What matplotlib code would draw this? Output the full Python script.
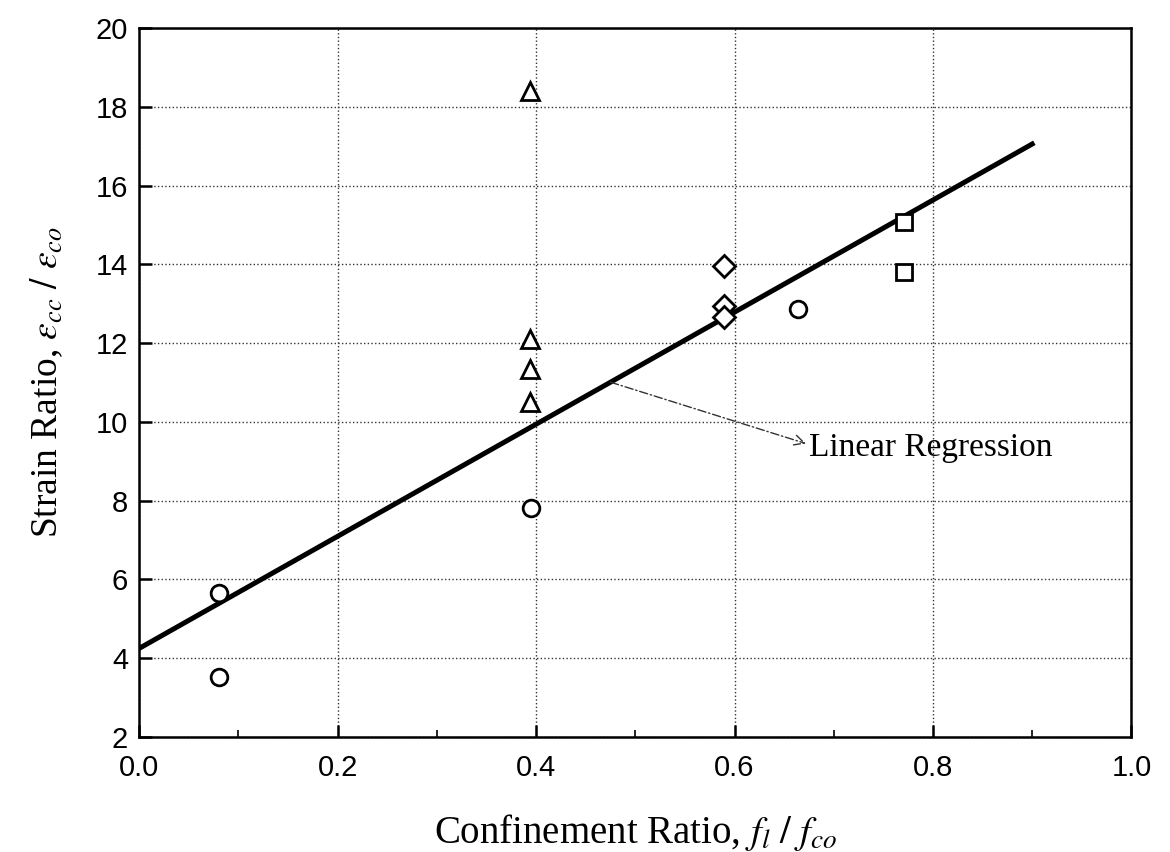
import matplotlib
matplotlib.use('Agg')
import matplotlib.pyplot as plt
import numpy as np
from matplotlib.ticker import MultipleLocator

plt.rcParams['mathtext.fontset'] = 'stix'

# data
circle_x = [0.08, 0.08, 0.395, 0.664]
circle_y = [5.65, 3.52, 7.82, 12.86]
tri_x = [0.394, 0.394, 0.394, 0.394]
tri_y = [18.4, 12.1, 11.35, 10.5]
dia_x = [0.589, 0.589, 0.589]
dia_y = [13.95, 12.94, 12.66]
sq_x = [0.771, 0.771]
sq_y = [15.08, 13.8]

# linear regression line
fit_intercept = 4.25
fit_slope = 14.23
fit_x = [0.0, 0.9]

x_ticks = [0.0, 0.2, 0.4, 0.6, 0.8, 1.0]
y_ticks = [2, 4, 6, 8, 10, 12, 14, 16, 18, 20]

fig = plt.figure(figsize=(11.7, 8.52), dpi=100)
ax = fig.add_axes([0.119, 0.135, 0.848, 0.832])

mk = dict(linestyle='none', markerfacecolor='white', markeredgecolor='black',
          markeredgewidth=2.0, zorder=4)
ax.plot(circle_x, circle_y, marker='o', markersize=12, **mk)
ax.plot(tri_x, tri_y, marker='^', markersize=13, **mk)
ax.plot(dia_x, dia_y, marker='D', markersize=11, **mk)
ax.plot(sq_x, sq_y, marker='s', markersize=12, **mk)

fx = np.array(fit_x)
ax.plot(fx, fit_intercept + fit_slope * fx, color='black', lw=3.6, zorder=3)

# annotation: thin dash-dot arrow from the line to the label
x0 = 0.475
ax.annotate('', xy=(0.672, 9.45), xytext=(x0, fit_intercept + fit_slope * x0),
            arrowprops=dict(arrowstyle='->', color='#333333', lw=1.0,
                            linestyle=(0, (6, 2, 1, 2)), shrinkA=0, shrinkB=0,
                            mutation_scale=18))
ax.text(0.675, 9.35, 'Linear Regression', ha='left', va='center',
        fontsize=24, family='Liberation Serif')

ax.set_xlim(0, 1.0)
ax.set_ylim(2, 20)
ax.set_xticks(x_ticks)
ax.set_yticks(y_ticks)
ax.set_xticklabels([f'{v:.1f}' for v in x_ticks])
ax.xaxis.set_minor_locator(MultipleLocator(0.1))
ax.grid(True, which='major', linestyle=':', color='#333333', lw=1.0)
ax.tick_params(which='major', direction='in', length=9, width=1.8,
               labelsize=21, pad=8)
ax.tick_params(axis='x', which='major', pad=12)
ax.tick_params(which='minor', direction='in', length=5, width=1.2)
for lab in ax.get_xticklabels() + ax.get_yticklabels():
    lab.set_family('Liberation Sans')
for sp in ax.spines.values():
    sp.set_linewidth(1.8)

ax.set_xlabel(r'Confinement Ratio, $f_l\ /\ f_{co}$', fontsize=28,
              family='Liberation Serif', labelpad=22)
ax.set_ylabel(r'Strain Ratio, $\varepsilon_{cc}\ /\ \varepsilon_{co}$',
              fontsize=27, family='Liberation Serif', labelpad=22)

fig.savefig('out.png', dpi=100, facecolor='white')
